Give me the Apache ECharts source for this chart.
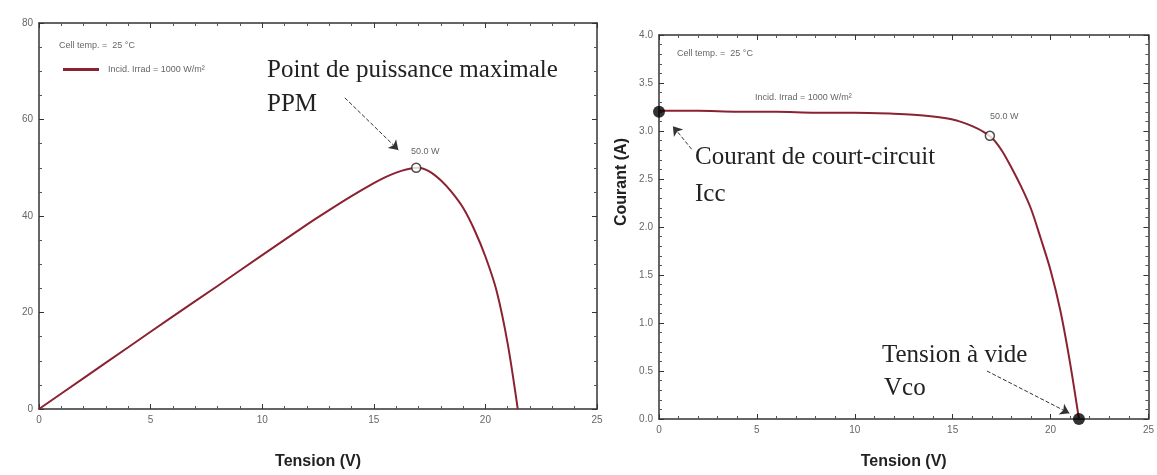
<!DOCTYPE html>
<html>
<head>
<meta charset="utf-8">
<script src="https://cdn.jsdelivr.net/npm/echarts@6/dist/echarts.min.js"></script>
<style>
  html, body { margin: 0; padding: 0; background: #fff; }
</style>
</head>
<body>
<div id="pv" style="width:1157px;height:475px;"></div>
<script>
// tension (V), courant (A), puissance (W)
const tension = [0, 2, 4, 6, 8, 10, 12, 13, 14, 15, 15.5, 16, 16.5, 17, 17.5, 18, 18.5, 19, 19.5, 20, 20.5, 21, 21.45]
const courant = [3.21, 3.21, 3.2, 3.2, 3.19, 3.19, 3.18, 3.17, 3.15, 3.12, 3.09, 3.05, 3.0, 2.93, 2.8, 2.62, 2.42, 2.19, 1.88, 1.55, 1.13, 0.58, 0]
const puissance = [0, 6.4, 12.8, 19.2, 25.5, 31.9, 38.2, 41.2, 44.1, 46.8, 48.0, 49.0, 49.7, 50.0, 49.2, 47.4, 44.9, 41.7, 37.2, 31.6, 24.5, 13.5, 0]

const ppmPuissance = [[16.9, 50.0]]
const ppmCourant = [[16.9, 2.95]]
const iccVco = [[0, 3.2], [21.45, 0]]

// flèches en pointillés (coordonnées dans le repère des axes)
const flechePPM = [[13.7, 64.5], [16.1, 53.7]]
const flecheIcc = [[1.67, 2.81], [0.71, 3.05]]
const flecheVco = [[16.75, 0.5], [20.96, 0.06]]

const xTicks = { min: 0, max: 25, interval: 5 }
const yTicksP = { min: 0, max: 80, interval: 20 }
const yTicksI = { min: 0, max: 4, interval: 0.5 }

const serieNom = 'Incid. Irrad = 1000 W/m²'
const rouge = '#8b2232'
const petit = { fontFamily: 'Liberation Sans', fontSize: 9, fill: '#666' }
const serif = { fontFamily: 'Liberation Serif', fontSize: 25, fill: '#222' }

function axe (ticks, opts) {
  return Object.assign({
    type: 'value',
    min: ticks.min,
    max: ticks.max,
    interval: ticks.interval,
    axisLine: { show: true, onZero: false, lineStyle: { color: '#333', width: 1.5 } },
    axisTick: { inside: true, length: 5, lineStyle: { color: '#333' } },
    minorTick: { show: true, splitNumber: 5, length: 3, lineStyle: { color: '#555' } },
    splitLine: { show: false },
    axisLabel: { color: '#666', fontSize: 10, fontFamily: 'Liberation Sans', margin: 6 }
  }, opts)
}

function fleche (pts) {
  return {
    silent: true,
    symbol: ['none', 'arrow'],
    symbolSize: 9,
    label: { show: false },
    lineStyle: { type: 'dashed', color: '#333', width: 1 },
    itemStyle: { color: '#111' },
    data: [[{ coord: pts[0] }, { coord: pts[1] }]]
  }
}

const nomAxe = { color: '#222', fontSize: 16, fontWeight: 'bold', fontFamily: 'Liberation Sans' }

let myChart = echarts.init(document.getElementById('pv'))
myChart.setOption({
  animation: false,
  grid: [
    { left: 39, right: 560, top: 23, bottom: 66 },
    { left: 659, right: 4, top: 35, bottom: 54 }
  ],
  legend: {
    data: [serieNom],
    left: 58, top: 60,
    icon: 'rect', itemWidth: 36, itemHeight: 3, itemGap: 8,
    textStyle: { fontSize: 9, color: '#666', fontFamily: 'Liberation Sans', padding: [0, 0, 0, 4] }
  },
  xAxis: [
    axe(xTicks, { gridIndex: 0, name: 'Tension (V)', nameLocation: 'middle', nameGap: 45, nameTextStyle: nomAxe }),
    axe(xTicks, { gridIndex: 0, position: 'top', axisLabel: { show: false } }),
    axe(xTicks, { gridIndex: 1, name: 'Tension (V)', nameLocation: 'middle', nameGap: 35, nameTextStyle: nomAxe }),
    axe(xTicks, { gridIndex: 1, position: 'top', axisLabel: { show: false } })
  ],
  yAxis: [
    axe(yTicksP, { gridIndex: 0, minorTick: { show: true, splitNumber: 4, length: 3, lineStyle: { color: '#555' } } }),
    axe(yTicksP, { gridIndex: 0, position: 'right', axisLabel: { show: false }, minorTick: { show: true, splitNumber: 4, length: 3, lineStyle: { color: '#555' } } }),
    axe(yTicksI, { gridIndex: 1, axisLabel: { color: '#666', fontSize: 10, fontFamily: 'Liberation Sans', margin: 6, formatter: v => v.toFixed(1) } }),
    axe(yTicksI, { gridIndex: 1, position: 'right', axisLabel: { show: false } })
  ],
  series: [
    {
      name: serieNom,
      type: 'line',
      xAxisIndex: 0, yAxisIndex: 0,
      data: tension.map((v, i) => [v, puissance[i]]),
      showSymbol: false,
      smooth: 0.3,
      color: rouge,
      lineStyle: { width: 2, color: rouge },
      markLine: fleche(flechePPM)
    },
    {
      name: 'courant',
      type: 'line',
      xAxisIndex: 2, yAxisIndex: 2,
      data: tension.map((v, i) => [v, courant[i]]),
      showSymbol: false,
      smooth: 0.3,
      lineStyle: { width: 2, color: rouge },
      markLine: fleche(flecheIcc)
    },
    {
      type: 'line',
      xAxisIndex: 2, yAxisIndex: 2,
      data: [],
      markLine: fleche(flecheVco)
    },
    {
      type: 'scatter',
      xAxisIndex: 0, yAxisIndex: 0,
      data: ppmPuissance,
      symbolSize: 9,
      itemStyle: { color: '#fff', borderColor: '#222', borderWidth: 1.5 },
      z: 5
    },
    {
      type: 'scatter',
      xAxisIndex: 2, yAxisIndex: 2,
      data: ppmCourant,
      symbolSize: 9,
      itemStyle: { color: '#fff', borderColor: '#222', borderWidth: 1.5 },
      z: 5
    },
    {
      type: 'scatter',
      xAxisIndex: 2, yAxisIndex: 2,
      data: iccVco,
      symbolSize: 12,
      itemStyle: { color: '#000' },
      z: 6
    }
  ],
  graphic: [
    { type: 'text', left: 59, top: 41, style: Object.assign({ text: 'Cell temp. =  25 °C' }, petit) },
    { type: 'text', left: 411, top: 147, style: Object.assign({ text: '50.0 W' }, petit) },
    { type: 'text', left: 267, top: 58, style: Object.assign({ text: 'Point de puissance maximale' }, serif) },
    { type: 'text', left: 267, top: 92, style: Object.assign({ text: 'PPM' }, serif) },

    { type: 'text', left: 677, top: 49, style: Object.assign({ text: 'Cell temp. =  25 °C' }, petit) },
    { type: 'text', left: 755, top: 93, style: Object.assign({ text: serieNom }, petit) },
    { type: 'text', left: 990, top: 112, style: Object.assign({ text: '50.0 W' }, petit) },
    { type: 'text', left: 695, top: 145, style: Object.assign({ text: 'Courant de court-circuit' }, serif) },
    { type: 'text', left: 695, top: 182, style: Object.assign({ text: 'Icc' }, serif) },
    { type: 'text', left: 882, top: 343, style: Object.assign({ text: 'Tension à vide' }, serif) },
    { type: 'text', left: 884, top: 376, style: Object.assign({ text: 'Vco' }, serif) },
    {
      type: 'text', x: 622, y: 182, rotation: Math.PI / 2,
      style: { text: 'Courant (A)', fontFamily: 'Liberation Sans', fontSize: 16, fontWeight: 'bold', fill: '#222', align: 'center', verticalAlign: 'middle' }
    }
  ]
})
window.onresize = myChart.resize
</script>
</body>
</html>
